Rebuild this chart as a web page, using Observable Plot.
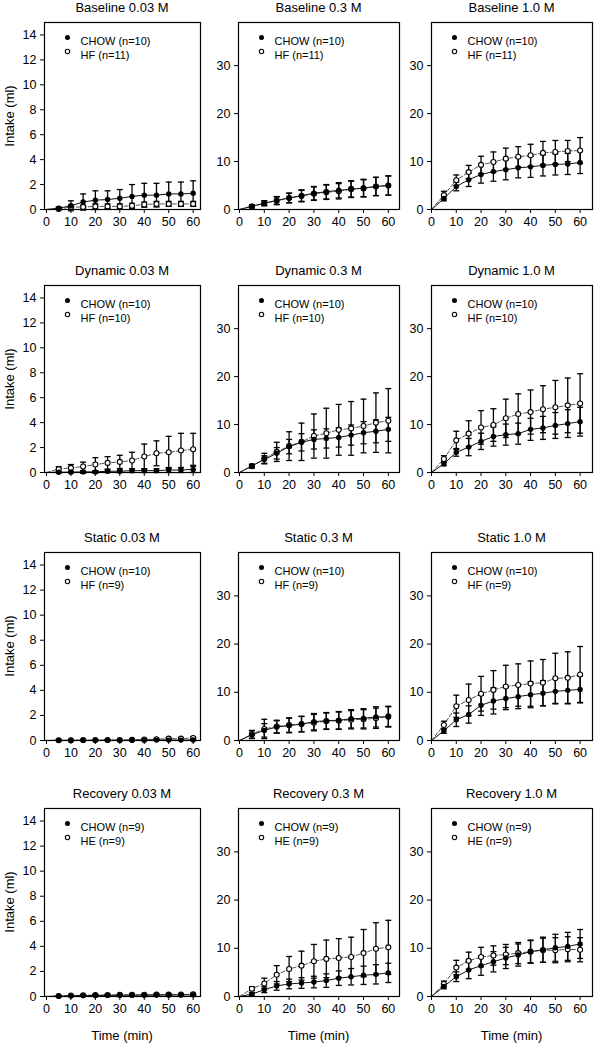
<!DOCTYPE html>
<html><head><meta charset="utf-8">
<script src="https://cdn.jsdelivr.net/npm/d3@7"></script>
<script src="https://cdn.jsdelivr.net/npm/@observablehq/plot@0.6"></script>
<style>
body{margin:0;background:#fff;font-family:"Liberation Sans",Arial,sans-serif;}
#wrap{position:relative;width:600px;height:1050px;overflow:hidden;background:#fff;}
.lbl{position:absolute;white-space:nowrap;color:#000;line-height:1;font-weight:normal;transform:translate(-50%,-50%);}
.panel{position:absolute;}
</style></head><body><div id="wrap"></div>
<script>
// ---- data ----
const times = [0, 5, 10, 15, 20, 25, 30, 35, 40, 45, 50, 55, 60];
const conditions = ["Baseline", "Dynamic", "Static", "Recovery"];
const concentrations = ["0.03 M", "0.3 M", "1.0 M"];
const chowLabels = ["CHOW (n=10)", "CHOW (n=10)", "CHOW (n=10)", "CHOW (n=9)"];
const hfLabels = ["HF (n=11)", "HF (n=10)", "HF (n=9)", "HE (n=9)"];
const yTicksLow = [0, 2, 4, 6, 8, 10, 12, 14];
const yTicksHigh = [0, 10, 20, 30];
const xTicks = [0, 10, 20, 30, 40, 50, 60];

// Baseline
const baseline003Chow    = [0, 0.1, 0.3, 0.6, 0.75, 0.8, 0.9, 1.05, 1.15, 1.15, 1.25, 1.25, 1.3];
const baseline003ChowSem = [0, 0.1, 0.4, 0.65, 0.75, 0.7, 0.7, 0.95, 0.95, 0.95, 0.95, 0.95, 1.0];
const baseline003Hf      = [0, 0.05, 0.2, 0.2, 0.25, 0.25, 0.25, 0.3, 0.4, 0.45, 0.45, 0.45, 0.45];
const baseline003HfSem   = [0, 0.05, 0.15, 0.15, 0.2, 0.2, 0.2, 0.2, 0.2, 0.2, 0.2, 0.2, 0.2];
const baseline03Chow     = [0, 0.7, 1.3, 1.9, 2.4, 2.9, 3.4, 3.7, 4.0, 4.2, 4.5, 4.8, 5.0];
const baseline03ChowSem  = [0, 0.3, 0.5, 0.8, 1.0, 1.2, 1.4, 1.5, 1.6, 1.7, 1.8, 1.9, 2.0];
const baseline03Hf       = [0, 0.6, 1.3, 1.8, 2.4, 2.8, 3.3, 3.6, 3.8, 4.3, 4.4, 4.8, 5.0];
const baseline03HfSem    = [0, 0.3, 0.5, 0.8, 1.0, 1.2, 1.4, 1.5, 1.6, 1.7, 1.8, 1.9, 2.0];
const baseline10Chow     = [0, 2.3, 4.8, 6.2, 7.3, 7.9, 8.3, 8.7, 8.9, 9.2, 9.4, 9.5, 9.8];
const baseline10ChowSem  = [0, 0.5, 0.9, 1.4, 1.8, 2.0, 2.1, 2.1, 2.2, 2.2, 2.2, 2.2, 2.3];
const baseline10Hf       = [0, 3.0, 6.1, 7.8, 9.3, 9.9, 10.6, 11.0, 11.3, 11.8, 12.0, 12.2, 12.3];
const baseline10HfSem    = [0, 0.8, 1.1, 1.4, 1.8, 2.1, 2.2, 2.1, 2.3, 2.4, 2.4, 2.2, 2.7];
// Dynamic
const dynamic003Chow     = [0, 0.02, 0.03, 0.05, 0.05, 0.1, 0.1, 0.15, 0.15, 0.15, 0.2, 0.2, 0.25];
const dynamic003ChowSem  = [0, 0.05, 0.05, 0.1, 0.1, 0.1, 0.1, 0.15, 0.15, 0.15, 0.2, 0.2, 0.25];
const dynamic003Hf       = [0, 0.27, 0.37, 0.48, 0.64, 0.77, 0.85, 0.96, 1.28, 1.54, 1.62, 1.76, 1.86];
const dynamic003HfSem    = [0, 0.2, 0.27, 0.35, 0.55, 0.5, 0.53, 0.66, 1.0, 1.0, 1.28, 1.38, 1.28];
const dynamic03Chow      = [0, 1.4, 2.7, 4.0, 5.4, 6.3, 6.9, 7.1, 7.3, 7.8, 8.3, 8.6, 9.0];
const dynamic03ChowSem   = [0, 0.3, 0.8, 1.2, 1.5, 1.8, 2.0, 2.0, 2.0, 2.1, 2.3, 2.4, 2.5];
const dynamic03Hf        = [0, 1.3, 2.9, 4.3, 5.5, 6.4, 7.6, 8.2, 8.9, 9.2, 9.7, 10.4, 10.8];
const dynamic03HfSem     = [0, 0.4, 1.1, 2.0, 3.0, 3.9, 4.6, 5.2, 5.3, 5.6, 5.6, 6.2, 6.7];
const dynamic10Chow      = [0, 1.8, 4.2, 5.3, 6.5, 7.5, 7.9, 8.1, 9.0, 9.3, 9.8, 10.2, 10.6];
const dynamic10ChowSem   = [0, 0.4, 0.8, 1.8, 1.7, 2.0, 2.2, 2.2, 2.3, 2.4, 2.7, 2.9, 3.0];
const dynamic10Hf        = [0, 2.8, 6.7, 8.1, 9.4, 9.9, 11.3, 12.2, 12.6, 13.2, 13.6, 14.0, 14.4];
const dynamic10HfSem     = [0, 0.7, 1.9, 2.7, 3.5, 3.4, 4.0, 4.2, 4.6, 4.9, 5.6, 5.7, 6.2];
// Static
const static003Chow      = [0, 0.01, 0.01, 0.01, 0.01, 0.01, 0.01, 0.02, 0.02, 0.03, 0.03, 0.03, 0.04];
const static003ChowSem   = [0, 0.01, 0.01, 0.01, 0.01, 0.01, 0.01, 0.02, 0.02, 0.02, 0.02, 0.02, 0.03];
const static003Hf        = [0, 0.02, 0.02, 0.03, 0.03, 0.04, 0.04, 0.05, 0.08, 0.1, 0.15, 0.15, 0.2];
const static003HfSem     = [0, 0.02, 0.02, 0.02, 0.02, 0.03, 0.03, 0.03, 0.05, 0.05, 0.08, 0.08, 0.1];
const static03Chow       = [0, 1.2, 2.1, 2.8, 3.1, 3.4, 3.9, 4.1, 4.2, 4.5, 4.6, 4.9, 4.9];
const static03ChowSem    = [0, 0.8, 1.4, 1.3, 1.5, 1.6, 1.7, 1.7, 1.8, 1.9, 2.0, 2.1, 2.1];
const static03Hf         = [0, 1.3, 2.4, 2.9, 3.2, 3.4, 3.7, 4.0, 4.1, 4.3, 4.4, 4.6, 5.0];
const static03HfSem      = [0, 0.8, 2.0, 1.3, 1.5, 1.6, 1.7, 1.7, 1.8, 1.9, 2.0, 2.1, 2.1];
const static10Chow       = [0, 2.0, 4.3, 5.4, 7.3, 8.2, 8.7, 9.1, 9.5, 9.8, 10.2, 10.4, 10.6];
const static10ChowSem    = [0, 0.5, 1.4, 1.8, 2.1, 2.7, 2.3, 2.5, 2.7, 2.6, 2.6, 2.7, 2.8];
const static10Hf         = [0, 3.2, 7.1, 8.4, 9.7, 10.5, 11.2, 11.5, 11.8, 12.0, 12.9, 13.0, 13.7];
const static10HfSem      = [0, 0.8, 2.3, 3.3, 3.6, 4.0, 4.4, 4.4, 4.7, 4.8, 5.2, 5.4, 5.8];
// Recovery
const recovery003Chow    = [0, 0.02, 0.05, 0.07, 0.08, 0.09, 0.1, 0.1, 0.11, 0.11, 0.12, 0.12, 0.13];
const recovery003ChowSem = [0, 0.02, 0.03, 0.04, 0.04, 0.05, 0.05, 0.05, 0.05, 0.05, 0.05, 0.05, 0.05];
const recovery003Hf      = [0, 0.04, 0.08, 0.1, 0.11, 0.12, 0.13, 0.14, 0.14, 0.15, 0.15, 0.16, 0.17];
const recovery003HfSem   = [0, 0.03, 0.04, 0.05, 0.05, 0.05, 0.06, 0.06, 0.06, 0.06, 0.06, 0.06, 0.07];
const recovery03Chow     = [0, 0.5, 1.4, 2.2, 2.6, 2.8, 3.0, 3.3, 3.8, 4.1, 4.4, 4.6, 4.9];
const recovery03ChowSem  = [0, 0.3, 0.6, 0.9, 1.0, 1.1, 1.2, 1.4, 1.5, 1.7, 1.9, 2.0, 2.0];
const recovery03Hf       = [0, 1.6, 2.7, 4.5, 5.7, 6.4, 7.3, 7.8, 8.0, 8.2, 9.0, 9.9, 10.2];
const recovery03HfSem    = [0, 0.4, 1.1, 1.9, 2.6, 3.0, 3.5, 3.9, 4.0, 4.1, 4.9, 5.4, 5.6];
const recovery10Chow     = [0, 2.1, 4.1, 5.5, 6.4, 7.2, 8.0, 8.6, 9.3, 9.7, 10.1, 10.4, 10.9];
const recovery10ChowSem  = [0, 0.5, 1.0, 1.8, 2.0, 2.1, 2.2, 2.3, 2.4, 2.6, 2.8, 2.9, 3.0];
const recovery10Hf       = [0, 2.6, 6.0, 7.4, 8.2, 8.5, 8.7, 9.0, 9.3, 9.6, 9.6, 9.8, 9.7];
const recovery10HfSem    = [0, 0.6, 1.5, 1.8, 2.0, 2.0, 2.1, 2.2, 2.3, 2.5, 2.6, 2.6, 2.5];

const panelData = [
  [[baseline003Chow, baseline003ChowSem, baseline003Hf, baseline003HfSem],
   [baseline03Chow, baseline03ChowSem, baseline03Hf, baseline03HfSem],
   [baseline10Chow, baseline10ChowSem, baseline10Hf, baseline10HfSem]],
  [[dynamic003Chow, dynamic003ChowSem, dynamic003Hf, dynamic003HfSem],
   [dynamic03Chow, dynamic03ChowSem, dynamic03Hf, dynamic03HfSem],
   [dynamic10Chow, dynamic10ChowSem, dynamic10Hf, dynamic10HfSem]],
  [[static003Chow, static003ChowSem, static003Hf, static003HfSem],
   [static03Chow, static03ChowSem, static03Hf, static03HfSem],
   [static10Chow, static10ChowSem, static10Hf, static10HfSem]],
  [[recovery003Chow, recovery003ChowSem, recovery003Hf, recovery003HfSem],
   [recovery03Chow, recovery03ChowSem, recovery03Hf, recovery03HfSem],
   [recovery10Chow, recovery10ChowSem, recovery10Hf, recovery10HfSem]]
];

// ---- layout ----
const colLeft = [44, 238, 431], colRight = [200, 399, 592];
const rowTop = [22, 285, 552, 808], rowBottom = [209, 472, 740, 996];
const xDomains = [[-0.8, 63], [-0.4, 64.5], [0, 65]];
const yMax = [15, 39, 39];
const FONT = '"Liberation Sans", Arial, sans-serif';
const mL = 46, mR = 8, mT = 8, mB = 30;

const capSymbol = {
  draw(context, size) {
    const w = Math.sqrt(size / Math.PI);
    context.moveTo(-w, 0);
    context.lineTo(w, 0);
  }
};

const wrap = document.getElementById("wrap");
function addLabel(text, x, y, size, rotate) {
  const d = document.createElement("div");
  d.className = "lbl";
  d.textContent = text;
  d.style.left = x + "px";
  d.style.top = y + "px";
  d.style.fontSize = size + "px";
  d.style.fontFamily = FONT;
  if (rotate) d.style.transform = "translate(-50%,-50%) rotate(-90deg)";
  wrap.appendChild(d);
}

for (let r = 0; r < 4; r++) {
  for (let c = 0; c < 3; c++) {
    const [chow, chowSem, hf, hfSem] = panelData[r][c];
    const rows = [];
    times.forEach((t, i) => {
      rows.push({t, g: "CHOW", v: chow[i], lo: chow[i] - chowSem[i], hi: chow[i] + chowSem[i]});
      rows.push({t, g: "HF", v: hf[i], lo: hf[i] - hfSem[i], hi: hf[i] + hfSem[i]});
    });
    const chowRows = rows.filter(d => d.g === "CHOW");
    const hfRows = rows.filter(d => d.g === "HF");
    const pts = rows.filter(d => d.t > 0);
    const fw = colRight[c] - colLeft[c], fh = rowBottom[r] - rowTop[r];
    const chart = Plot.plot({
      width: fw + mL + mR,
      height: fh + mT + mB,
      marginLeft: mL, marginRight: mR, marginTop: mT, marginBottom: mB,
      style: {fontFamily: FONT, fontSize: "12.5px", color: "#000", background: "transparent", overflow: "visible"},
      x: {domain: xDomains[c], label: null},
      y: {domain: [0, yMax[c]], label: null},
      marks: [
        Plot.axisX({ticks: xTicks, tickSize: 4, tickPadding: 4, label: null, fontSize: 12.5}),
        Plot.axisY({ticks: c === 0 ? yTicksLow : yTicksHigh, tickSize: 4, tickPadding: 4, label: null, fontSize: 12.5}),
        Plot.line(hfRows, {x: "t", y: "v", stroke: "#555", strokeWidth: 1, strokeDasharray: "4,2"}),
        Plot.line(chowRows, {x: "t", y: "v", stroke: "#111", strokeWidth: 1}),
        Plot.ruleX(pts, {x: "t", y1: "lo", y2: "hi", stroke: "#000", strokeWidth: 1.3}),
        Plot.dot(pts, {x: "t", y: "hi", symbol: capSymbol, r: 3, stroke: "#000", strokeWidth: 1.3}),
        Plot.dot(pts, {x: "t", y: "lo", symbol: capSymbol, r: 3, stroke: "#000", strokeWidth: 1.3}),
        Plot.dot(hfRows.filter(d => d.t > 0), {x: "t", y: "v", r: 2.5, fill: "#fff", stroke: "#000", strokeWidth: 1.1}),
        Plot.dot(chowRows.filter(d => d.t > 0), {x: "t", y: "v", r: 2.7, fill: "#000", stroke: "none"}),
        // legend
        Plot.dot([chowLabels[r]], {frameAnchor: "top-left", dx: 23, dy: 15, r: 2.5, fill: "#000"}),
        Plot.dot([hfLabels[r]], {frameAnchor: "top-left", dx: 23, dy: 29, r: 2.2, fill: "#fff", stroke: "#000", strokeWidth: 1.1}),
        Plot.text([chowLabels[r]], {frameAnchor: "top-left", text: d => d, dx: 36, dy: 15, textAnchor: "start", fontSize: 11, fill: "#000"}),
        Plot.text([hfLabels[r]], {frameAnchor: "top-left", text: d => d, dx: 36, dy: 29, textAnchor: "start", fontSize: 11, fill: "#000"}),
        Plot.frame({stroke: "#000", strokeWidth: 1.2})
      ]
    });
    chart.classList.add("panel");
    chart.style.left = (colLeft[c] - mL) + "px";
    chart.style.top = (rowTop[r] - mT) + "px";
    wrap.appendChild(chart);
    addLabel(conditions[r] + " " + concentrations[c], (colLeft[c] + colRight[c]) / 2, rowTop[r] - 15, 13);
    if (c === 0) addLabel("Intake (ml)", 9, (rowTop[r] + rowBottom[r]) / 2, 13, true);
    if (r === 3) addLabel("Time (min)", (colLeft[c] + colRight[c]) / 2, 1035, 13);
  }
}
</script>
</body></html>
